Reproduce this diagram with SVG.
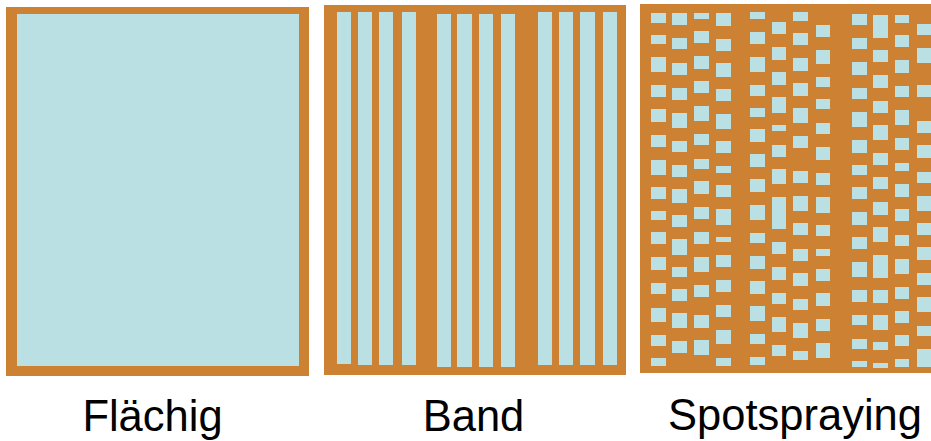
<svg xmlns="http://www.w3.org/2000/svg" width="931" height="441" viewBox="0 0 931 441">
<style>
.o{fill:#CD8233}
.b{fill:#BBE0E3}
.t{font-family:"Liberation Sans",Arial,sans-serif;font-size:43.5px;fill:#000;text-anchor:middle}
</style>
<rect width="931" height="441" fill="#FFFFFF"/>
<g id="flaechig">
<rect class="o" x="6" y="7" width="303" height="369"/>
<rect class="b" x="17" y="14" width="282" height="352"/>
<text class="t" x="152.5" y="431">Flächig</text>
</g>
<g id="band">
<rect class="o" x="324" y="5" width="302" height="370"/>
<g class="b">
<rect x="337" y="12" width="14" height="352"/>
<rect x="358" y="12" width="14" height="353"/>
<rect x="379" y="12" width="14" height="353"/>
<rect x="402" y="12" width="14" height="353"/>
<rect x="437" y="14" width="14" height="353"/>
<rect x="457" y="14" width="15" height="353"/>
<rect x="479" y="14" width="14" height="353"/>
<rect x="501" y="14" width="14" height="353"/>
<rect x="538" y="12" width="14" height="353"/>
<rect x="559" y="12" width="14" height="353"/>
<rect x="580" y="12" width="15" height="353"/>
<rect x="603" y="12" width="14" height="353"/>
</g>
<text class="t" x="473.5" y="431">Band</text>
</g>
<g id="spotspraying">
<rect class="o" x="640" y="4" width="291" height="369"/>
<g class="b">
<!-- col A -->
<rect x="651" y="13" width="15" height="10"/><rect x="651" y="35" width="15" height="9"/><rect x="651" y="57" width="15" height="15"/><rect x="651" y="85" width="15" height="12"/><rect x="651" y="109" width="15" height="13"/><rect x="651" y="135" width="15" height="12"/><rect x="651" y="160" width="15" height="15"/><rect x="651" y="187" width="15" height="12"/><rect x="651" y="211" width="15" height="9"/><rect x="651" y="232" width="15" height="12"/><rect x="651" y="257" width="15" height="13"/><rect x="651" y="283" width="15" height="11"/><rect x="651" y="308" width="15" height="14"/><rect x="651" y="335" width="15" height="11"/><rect x="651" y="358" width="15" height="8"/>
<!-- col B -->
<rect x="672" y="13" width="15" height="12"/><rect x="672" y="38" width="15" height="11"/><rect x="672" y="63" width="15" height="12"/><rect x="672" y="88" width="15" height="12"/><rect x="672" y="113" width="15" height="15"/><rect x="672" y="141" width="15" height="11"/><rect x="672" y="165" width="15" height="12"/><rect x="672" y="189" width="15" height="14"/><rect x="672" y="215" width="15" height="12"/><rect x="672" y="239" width="15" height="16"/><rect x="672" y="267" width="15" height="10"/><rect x="672" y="289" width="15" height="12"/><rect x="672" y="313" width="15" height="15"/><rect x="672" y="341" width="15" height="12"/>
<!-- col C -->
<rect x="694" y="13" width="15" height="6"/><rect x="694" y="31" width="15" height="12"/><rect x="694" y="56" width="15" height="13"/><rect x="694" y="81" width="15" height="12"/><rect x="694" y="106" width="15" height="15"/><rect x="694" y="134" width="15" height="11"/><rect x="694" y="159" width="15" height="10"/><rect x="694" y="181" width="15" height="13"/><rect x="694" y="207" width="15" height="12"/><rect x="694" y="232" width="15" height="12"/><rect x="694" y="257" width="15" height="15"/><rect x="694" y="285" width="15" height="12"/><rect x="694" y="315" width="15" height="13"/><rect x="694" y="340" width="15" height="15"/>
<!-- col D -->
<rect x="716" y="13" width="15" height="13"/><rect x="716" y="39" width="15" height="12"/><rect x="716" y="63" width="15" height="14"/><rect x="716" y="89" width="15" height="12"/><rect x="716" y="114" width="15" height="15"/><rect x="716" y="141" width="15" height="12"/><rect x="716" y="166" width="15" height="7"/><rect x="716" y="185" width="15" height="12"/><rect x="716" y="209" width="15" height="16"/><rect x="716" y="237" width="15" height="5"/><rect x="716" y="255" width="15" height="12"/><rect x="716" y="280" width="15" height="12"/><rect x="716" y="305" width="15" height="12"/><rect x="716" y="330" width="15" height="14"/><rect x="716" y="358" width="15" height="8"/>
<!-- col E -->
<rect x="750" y="12" width="15" height="7"/><rect x="750" y="32" width="15" height="12"/><rect x="750" y="57" width="15" height="15"/><rect x="750" y="85" width="15" height="11"/><rect x="750" y="108" width="15" height="9"/><rect x="750" y="129" width="15" height="13"/><rect x="750" y="154" width="15" height="13"/><rect x="750" y="179" width="15" height="13"/><rect x="750" y="205" width="15" height="15"/><rect x="750" y="233" width="15" height="10"/><rect x="750" y="256" width="15" height="13"/><rect x="750" y="281" width="15" height="13"/><rect x="750" y="306" width="15" height="15"/><rect x="750" y="334" width="15" height="10"/><rect x="750" y="357" width="15" height="8"/>
<!-- col F -->
<rect x="772" y="22" width="14" height="12"/><rect x="772" y="47" width="14" height="13"/><rect x="772" y="72" width="14" height="13"/><rect x="772" y="97" width="14" height="16"/><rect x="772" y="125" width="14" height="6"/><rect x="772" y="145" width="14" height="12"/><rect x="772" y="169" width="14" height="15"/><rect x="772" y="197" width="14" height="32"/><rect x="772" y="242" width="14" height="12"/><rect x="772" y="267" width="14" height="13"/><rect x="772" y="293" width="14" height="11"/><rect x="772" y="317" width="14" height="15"/><rect x="772" y="345" width="14" height="11"/>
<!-- col G -->
<rect x="793" y="12" width="15" height="9"/><rect x="793" y="33" width="15" height="12"/><rect x="793" y="58" width="15" height="13"/><rect x="793" y="83" width="15" height="13"/><rect x="793" y="108" width="15" height="15"/><rect x="793" y="136" width="15" height="12"/><rect x="793" y="171" width="15" height="12"/><rect x="793" y="196" width="15" height="15"/><rect x="793" y="223" width="15" height="12"/><rect x="793" y="249" width="15" height="12"/><rect x="793" y="273" width="15" height="13"/><rect x="793" y="299" width="15" height="11"/><rect x="793" y="323" width="15" height="15"/><rect x="793" y="351" width="15" height="9"/>
<!-- col H -->
<rect x="816" y="25" width="14" height="12"/><rect x="816" y="50" width="14" height="14"/><rect x="816" y="77" width="14" height="10"/><rect x="816" y="99" width="14" height="10"/><rect x="816" y="123" width="14" height="11"/><rect x="816" y="147" width="14" height="13"/><rect x="816" y="173" width="14" height="12"/><rect x="816" y="197" width="14" height="16"/><rect x="816" y="225" width="14" height="11"/><rect x="816" y="249" width="14" height="7"/><rect x="816" y="269" width="14" height="12"/><rect x="816" y="293" width="14" height="13"/><rect x="816" y="319" width="14" height="12"/><rect x="816" y="343" width="14" height="15"/>
<!-- col I -->
<rect x="852" y="14" width="15" height="11"/><rect x="852" y="38" width="15" height="11"/><rect x="852" y="62" width="15" height="13"/><rect x="852" y="88" width="15" height="11"/><rect x="852" y="112" width="15" height="15"/><rect x="852" y="140" width="15" height="13"/><rect x="852" y="165" width="15" height="10"/><rect x="852" y="187" width="15" height="12"/><rect x="852" y="212" width="15" height="13"/><rect x="852" y="237" width="15" height="12"/><rect x="852" y="262" width="15" height="15"/><rect x="852" y="290" width="15" height="12"/><rect x="852" y="315" width="15" height="10"/><rect x="852" y="339" width="15" height="10"/><rect x="852" y="361" width="15" height="6"/>
<!-- col J -->
<rect x="873" y="15" width="15" height="23"/><rect x="873" y="50" width="15" height="12"/><rect x="873" y="75" width="15" height="13"/><rect x="873" y="101" width="15" height="12"/><rect x="873" y="125" width="15" height="15"/><rect x="873" y="153" width="15" height="12"/><rect x="873" y="177" width="15" height="12"/><rect x="873" y="202" width="15" height="13"/><rect x="873" y="227" width="15" height="15"/><rect x="873" y="255" width="15" height="23"/><rect x="873" y="290" width="15" height="13"/><rect x="873" y="315" width="15" height="15"/><rect x="873" y="342" width="15" height="8"/><rect x="873" y="363" width="15" height="5"/>
<!-- col K -->
<rect x="895" y="15" width="14" height="8"/><rect x="895" y="35" width="14" height="12"/><rect x="895" y="60" width="14" height="13"/><rect x="895" y="86" width="14" height="11"/><rect x="895" y="110" width="14" height="15"/><rect x="895" y="138" width="14" height="12"/><rect x="895" y="163" width="14" height="8"/><rect x="895" y="184" width="14" height="13"/><rect x="895" y="209" width="14" height="12"/><rect x="895" y="235" width="14" height="11"/><rect x="895" y="259" width="14" height="15"/><rect x="895" y="287" width="14" height="12"/><rect x="895" y="311" width="14" height="12"/><rect x="895" y="335" width="14" height="11"/><rect x="895" y="359" width="14" height="8"/>
<!-- col L -->
<rect x="917" y="24" width="14" height="11"/><rect x="917" y="48" width="14" height="15"/><rect x="917" y="85" width="14" height="12"/><rect x="917" y="121" width="14" height="12"/><rect x="917" y="145" width="14" height="13"/><rect x="917" y="172" width="14" height="11"/><rect x="917" y="196" width="14" height="15"/><rect x="917" y="223" width="14" height="12"/><rect x="917" y="247" width="14" height="13"/><rect x="917" y="273" width="14" height="12"/><rect x="917" y="297" width="14" height="15"/><rect x="917" y="326" width="14" height="10"/><rect x="917" y="349" width="14" height="18"/>
</g>
<text class="t" x="795" y="430">Spotspraying</text>
</g>
</svg>
